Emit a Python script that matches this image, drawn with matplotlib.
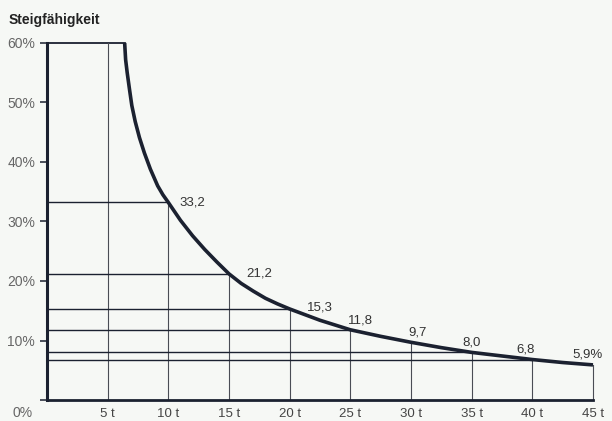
from matplotlib import pyplot as plt
import matplotlib.transforms as mtransforms

# curve (load in t, gradeability in %)
curve_t = [6.4, 6.48, 6.61, 6.8, 6.99, 7.27, 7.62, 8.03, 8.52, 9.12, 9.55, 10,
           11, 12, 13, 14, 15, 16, 17, 18, 19, 20, 22.5, 25,
           27.5, 30, 32.5, 35, 37.5, 40, 42.5, 45]
curve_pct = [60, 57.2, 55.0, 52.2, 49.5, 46.8, 44.1, 41.5, 38.8, 36.0, 34.5, 33.2,
             30.2, 27.6, 25.3, 23.2, 21.2, 19.6, 18.3, 17.1, 16.15, 15.3, 13.4, 11.8,
             10.7, 9.7, 8.8, 8.0, 7.4, 6.8, 6.3, 5.9]

# labelled points
point_t = [10, 15, 20, 25, 30, 35, 40, 45]
point_pct = [33.2, 21.2, 15.3, 11.8, 9.7, 8.0, 6.8, 5.9]
point_labels = ['33,2', '21,2', '15,3', '11,8', '9,7', '8,0', '6,8', '5,9%']
has_hline = [True, True, True, True, False, True, True, False]

x_ticks = [5, 10, 15, 20, 25, 30, 35, 40, 45]
x_labels = ['5 t', '10 t', '15 t', '20 t', '25 t', '30 t', '35 t', '40 t', '45 t']
y_ticks = [0, 10, 20, 30, 40, 50, 60]
y_labels = ['', '10%', '20%', '30%', '40%', '50%', '60%']

ink = '#1b2130'
grey = '#4a4d55'
bg = '#f6f8f5'

plt.rcParams['font.family'] = ['Liberation Sans', 'DejaVu Sans']

fig = plt.figure(figsize=(6.12, 4.21), dpi=100, facecolor=bg)
ax = fig.add_axes([47 / 612, 21 / 421, 546 / 612, 357 / 421])
ax.set_facecolor(bg)
ax.set_xlim(0, 45)
ax.set_ylim(0, 60)

# frame: thin top line and the 5 t line
ax.plot([0, curve_t[0]], [60, 60], color=ink, lw=1.3, clip_on=False)
ax.plot([5, 5], [0, 60], color=grey, lw=0.8)

for t, p, h in zip(point_t, point_pct, has_hline):
    ax.plot([t, t], [0, p], color=grey, lw=0.8, clip_on=False)
    if h:
        ax.plot([0, t], [p, p], color=ink, lw=1.0)

ax.plot(curve_t, curve_pct, color=ink, lw=2.6, solid_joinstyle='round',
        solid_capstyle='butt', clip_on=False, zorder=5)

offsets = [(11, 0), (17, 0), (17, 1), (-2, 9), (-3, 10), (-9, 10), (-16, 10), (-21, 10)]
for t, p, lab, off in zip(point_t, point_pct, point_labels, offsets):
    ax.annotate(lab, (t, p), xytext=off, textcoords='offset pixels',
                ha='left', va='center', fontsize=9.5, color='#333')

ax.spines['top'].set_visible(False)
ax.spines['right'].set_visible(False)
ax.spines['left'].set_linewidth(2.2)
ax.spines['left'].set_color(ink)
ax.spines['bottom'].set_linewidth(2.0)
ax.spines['bottom'].set_color(ink)

ax.set_yticks(y_ticks)
ax.set_yticklabels(y_labels)
ax.tick_params(axis='y', direction='out', length=5, width=1.1, color=ink,
               pad=3.5, labelsize=10, labelcolor='#666')
ax.set_xticks(x_ticks)
ax.set_xticklabels(x_labels)
ax.tick_params(axis='x', length=0, pad=6, labelsize=9.5, labelcolor='#444')

# 0% label sits below its tick
trans = mtransforms.offset_copy(ax.transData, fig=fig, x=-14, y=-13, units='dots')
ax.text(0, 0, '0%', transform=trans, ha='right', va='center', fontsize=10,
        color='#666', clip_on=False)

fig.text(9 / 612, 1 - 20 / 421, 'Steigfähigkeit', ha='left', va='center',
         fontsize=10, fontweight='bold', color='#222')

fig.savefig('out.png', dpi=100, facecolor=bg)
